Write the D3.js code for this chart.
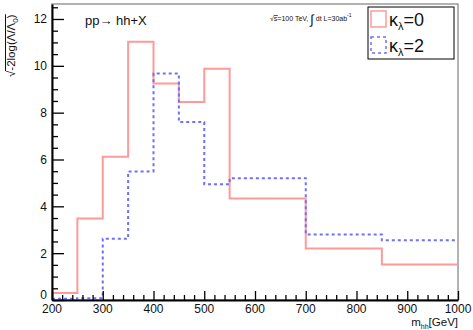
<!DOCTYPE html>
<html>
<head>
<meta charset="utf-8">
<script src="https://cdn.jsdelivr.net/npm/d3@7"></script>
<style>
  html, body { margin: 0; padding: 0; background: #fff; }
  svg { display: block; font-family: "Liberation Sans", Arial, Helvetica, sans-serif; }
</style>
</head>
<body>
<svg id="chart" width="473" height="330"></svg>
<script>
// Bin edges in m_hh [GeV]
const binEdges = [200, 250, 300, 350, 400, 450, 500, 550, 700, 850, 1000];
// sqrt(-2 log(L/L0)) per bin
const kappa0 = [0.3, 3.48, 6.12, 11.03, 9.25, 8.45, 9.88, 4.33, 2.2, 1.52];
const kappa2 = [0.05, 0.08, 2.62, 5.49, 9.67, 7.6, 4.94, 5.2, 2.8, 2.55];
const xTicks = [200, 300, 400, 500, 600, 700, 800, 900, 1000];
const yTicks = [0, 2, 4, 6, 8, 10, 12];

const svg = d3.select("#chart");
const plotL = 52, plotR = 458, plotT = 4, plotB = 300;

const x = d3.scaleLinear().domain([200, 1000]).range([plotL, plotR]);
const y = d3.scaleLinear().domain([0, 12.64]).range([plotB, plotT]);

// Frame (top and right edges)
svg.append("rect")
  .attr("x", plotL).attr("y", plotT)
  .attr("width", plotR - plotL).attr("height", plotB - plotT)
  .attr("fill", "none").attr("stroke", "#666").attr("stroke-width", 1);

// Step outline of a histogram
function stepPoints(vals) {
  const pts = [];
  vals.forEach((v, i) => {
    pts.push([x(binEdges[i]), y(v)]);
    pts.push([x(binEdges[i + 1]), y(v)]);
  });
  return pts;
}
const line = d3.line();

svg.append("path")
  .attr("d", line(stepPoints(kappa0)))
  .attr("fill", "none").attr("stroke", "#ff9a9a").attr("stroke-width", 2);

svg.append("path")
  .attr("d", line(stepPoints(kappa2)))
  .attr("fill", "none").attr("stroke", "#6f6fff").attr("stroke-width", 2)
  .attr("stroke-dasharray", "3,3");

// X axis: major ticks every 100, minor every 20, drawn inward
const xAxisG = svg.append("g").attr("transform", `translate(0,${plotB})`);
xAxisG.call(d3.axisBottom(x).tickValues(d3.range(200, 1001, 20))
  .tickSize(0).tickFormat(""));
xAxisG.select(".domain").attr("stroke", "#000").attr("stroke-width", 2);
xAxisG.selectAll(".tick line")
  .attr("y2", d => (d % 100 === 0 ? -9 : -5))
  .attr("stroke", "#000").attr("stroke-width", 1.3);
xTicks.forEach(v => {
  svg.append("text")
    .attr("x", x(v)).attr("y", plotB + 12.5)
    .attr("text-anchor", "middle").attr("font-size", 12)
    .attr("fill", "#111").text(v);
});

// Y axis: major ticks every 2, minor every 0.5
const yAxisG = svg.append("g").attr("transform", `translate(${plotL},0)`);
yAxisG.call(d3.axisLeft(y).tickValues(d3.range(0, 12.51, 0.5))
  .tickSize(0).tickFormat(""));
yAxisG.select(".domain").attr("stroke", "#000").attr("stroke-width", 2);
yAxisG.selectAll(".tick line")
  .attr("x2", d => (d % 2 === 0 ? 12 : 6))
  .attr("stroke", "#000").attr("stroke-width", 1.3);
yTicks.forEach(v => {
  svg.append("text")
    .attr("x", plotL - 5).attr("y", y(v) + (v === 0 ? -1 : 4.5))
    .attr("text-anchor", "end").attr("font-size", 12)
    .attr("fill", "#111").text(v);
});

// Y axis title with a drawn radical
const yt = svg.append("g").attr("transform", "translate(15,77) rotate(-90)");
const ytText = yt.append("text").attr("x", 0).attr("y", 0).attr("font-size", 11.5).attr("fill", "#111");
ytText.append("tspan").text("√");
ytText.append("tspan").text("-2log(Λ/Λ");
ytText.append("tspan").attr("font-size", 8).attr("dy", 3).text("0");
ytText.append("tspan").attr("dy", -3).text(")");
const bb = ytText.node().getBBox();
const sqW = 7;
yt.append("line")
  .attr("x1", bb.x + sqW - 1).attr("x2", bb.x + bb.width)
  .attr("y1", bb.y + 0.5).attr("y2", bb.y + 0.5)
  .attr("stroke", "#111").attr("stroke-width", 1);

// X axis title
const xt = svg.append("text").attr("x", plotR).attr("y", 326)
  .attr("text-anchor", "end").attr("font-size", 11.5).attr("fill", "#111");
xt.append("tspan").text("m");
xt.append("tspan").attr("font-size", 7).attr("dy", 2.5).text("hh");
xt.append("tspan").attr("dy", -2.5).text("[GeV]");

// Process label
svg.append("text").attr("x", 85).attr("y", 25)
  .attr("font-size", 13).attr("fill", "#111").text("pp→ hh+X");

// Energy and luminosity label
const el = svg.append("text").attr("x", 270).attr("y", 21)
  .attr("font-size", 7).attr("fill", "#111");
el.append("tspan").text("√");
const sTs = el.append("tspan").text("s=100 TeV, ");
el.append("tspan").attr("font-size", 13).attr("dy", 3).text("∫");
el.append("tspan").attr("dy", -3).text(" dt L=30ab");
el.append("tspan").attr("font-size", 5).attr("dy", -4).text("-1");
const sb = sTs.node().getBBox();
svg.append("line")
  .attr("x1", sb.x).attr("x2", sb.x + 4)
  .attr("y1", sb.y + 0.5).attr("y2", sb.y + 0.5)
  .attr("stroke", "#111").attr("stroke-width", 0.7);

// Legend
const legend = svg.append("g");
legend.append("rect")
  .attr("x", 368).attr("y", 7).attr("width", 86).attr("height", 52)
  .attr("fill", "#fff").attr("stroke", "#000").attr("stroke-width", 1);
const entries = [
  { label: "0", color: "#ff9a9a", dash: null, yTop: 11 },
  { label: "2", color: "#6f6fff", dash: "3,3", yTop: 37 }
];
entries.forEach(e => {
  legend.append("rect")
    .attr("x", 371).attr("y", e.yTop).attr("width", 15).attr("height", 16)
    .attr("fill", "none").attr("stroke", e.color).attr("stroke-width", 1.5)
    .attr("stroke-dasharray", e.dash);
  const t = legend.append("text").attr("x", 389).attr("y", e.yTop + 15)
    .attr("font-size", 18).attr("fill", "#111");
  t.append("tspan").text("κ");
  t.append("tspan").attr("font-size", 11).attr("dy", 4).text("λ");
  t.append("tspan").attr("dy", -4).text("=" + e.label);
});
</script>
</body>
</html>
